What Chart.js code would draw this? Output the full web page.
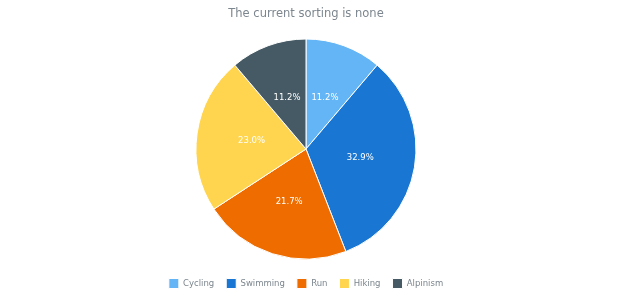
<!DOCTYPE html>
<html>
<head>
<meta charset="utf-8">
<script src="https://cdn.jsdelivr.net/npm/chart.js@4/dist/chart.umd.min.js"></script>
<style>
html,body{margin:0;padding:0;background:#fff;}
#wrap{width:620px;height:300px;position:relative;}
canvas{display:block;}
</style>
</head>
<body>
<div id="wrap"><canvas id="c" width="612" height="300"></canvas></div>
<script>
const titleText = "The current sorting is none";
const categories = ["Cycling", "Swimming", "Run", "Hiking", "Alpinism"];
const values = [11.2, 32.9, 21.7, 23.0, 11.2];
const colors = ["#64b5f6", "#1976d2", "#ef6c00", "#ffd54f", "#455a64"];

const FONT = "'DejaVu Sans', sans-serif";

const sliceLabels = {
  id: "sliceLabels",
  afterDatasetsDraw(chart) {
    const ctx = chart.ctx;
    const meta = chart.getDatasetMeta(0);
    const data = chart.data.datasets[0].data;
    const total = data.reduce((a, b) => a + b, 0);
    ctx.save();
    ctx.font = "8.5px " + FONT;
    ctx.textAlign = "center";
    ctx.textBaseline = "middle";
    ctx.fillStyle = "#ffffff";
    meta.data.forEach((arc, i) => {
      const p = arc.tooltipPosition();
      const pct = (data[i] / total * 100).toFixed(1) + "%";
      ctx.fillText(pct, p.x, p.y);
    });
    ctx.restore();
  }
};

new Chart(document.getElementById("c"), {
  type: "pie",
  data: {
    labels: categories,
    datasets: [{
      data: values,
      backgroundColor: colors,
      borderColor: "#ffffff",
      borderWidth: 1
    }]
  },
  options: {
    responsive: false,
    animation: false,
    layout: { padding: { top: 0, bottom: 1.5 } },
    plugins: {
      title: {
        display: true,
        text: titleText,
        color: "#7c868e",
        font: { family: FONT, size: 11.5, weight: "normal" },
        padding: { top: 7, bottom: 17.7 }
      },
      legend: {
        position: "bottom",
        title: {
          display: true,
          text: "",
          font: { family: FONT, size: 7, lineHeight: 1 },
          padding: 0
        },
        labels: {
          color: "#7c868e",
          font: { family: FONT, size: 8.5 },
          boxWidth: 10,
          boxHeight: 10,
          padding: 12
        }
      },
      tooltip: { enabled: false }
    }
  },
  plugins: [sliceLabels]
});
</script>
</body>
</html>
